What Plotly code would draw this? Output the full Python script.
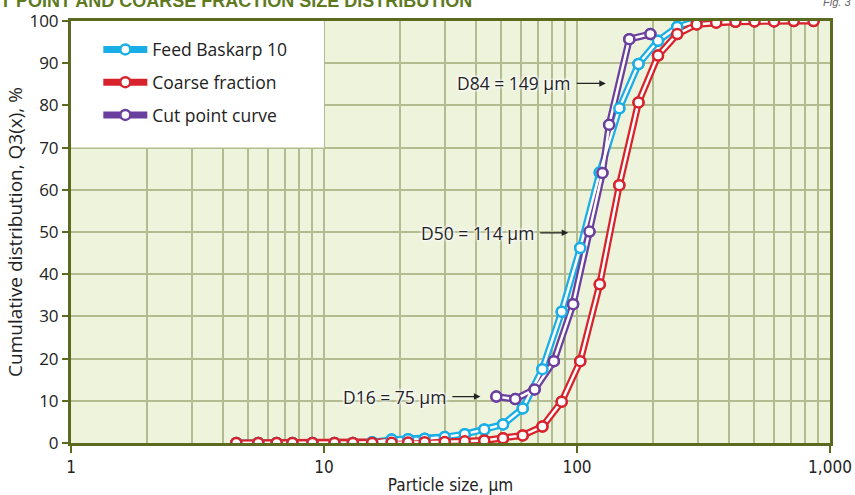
import plotly.graph_objects as go
import numpy as np

# ---- data ----
sizes = [4.5, 5.5, 6.5, 7.5, 9.0, 11.0, 13.0, 15.5, 18.5, 21.5, 25.0, 30.0, 36.0, 43.0,
         51.0, 61.0, 73.0, 87.0, 103.0, 123.0, 147.0, 175.0, 209.0, 249.0, 297.0,
         355.0, 423.0, 503.0, 601.0, 719.0, 861.0]
coarse = [0, 0, 0, 0, 0, 0, 0, 0, 0.05, 0.1, 0.2, 0.25, 0.4, 0.6,
          1.1, 1.8, 3.9, 9.8, 19.4, 37.6, 61.1, 80.7, 91.8, 96.9, 99.2,
          99.6, 99.8, 99.9, 99.9, 100, 100]
feed_sizes = sizes[:25]
feed = [0, 0, 0, 0, 0, 0, 0, 0.2, 0.8, 0.9, 1.0, 1.4, 2.1, 3.2,
        4.4, 8.2, 17.5, 31.1, 46.2, 64.1, 79.3, 89.8, 95.3, 98.6, 100]
cut_sizes = [48, 57, 68, 81, 96.5, 112, 126, 134, 161, 195]
cut = [11.0, 10.4, 12.7, 19.4, 32.9, 50.1, 64.0, 75.4, 95.7, 96.9]

series = [
    ("Feed Baskarp 10", feed_sizes, feed, "#19aee6"),
    ("Coarse fraction", sizes, coarse, "#d8232d"),
    ("Cut point curve", cut_sizes, cut, "#6a3f9e"),
]

markers = [  # (label, arrow-head size, arrow-head value, text offset px)
    ("D84 = 149 µm", 130, 85.2, -92),
    ("D50 = 114 µm", 92.3, 49.8, -91),
    ("D16 = 75 µm", 41.5, 11.0, -86),
]

x_tickvals = [1, 10, 100, 1000]
x_ticktext = ["1", "10", "100", "1,000"]
x_minor = [m * 10 ** d for d in range(0, 3) for m in range(2, 10)]

AXIS = "#5b6a1e"
GRID = "#b3bb91"
FONT = "Open Sans"
NARROW = "DejaVu Sans Condensed, Liberation Sans"

fig = go.Figure()

# colored outer lines (legend entries)
for i, (name, xs, ys, col) in enumerate(series):
    fig.add_trace(go.Scatter(
        x=xs, y=ys, name=name, mode="lines+markers", legendgroup=f"g{i}",
        line=dict(color=col, width=7),
        marker=dict(size=10, color="white", line=dict(color=col, width=2.5)),
    ))
# white inner lines
for i, (name, xs, ys, col) in enumerate(series):
    fig.add_trace(go.Scatter(
        x=xs, y=ys, mode="lines", showlegend=False, legendgroup=f"g{i}",
        hoverinfo="skip", line=dict(color="white", width=2.5),
    ))
# markers on top
for i, (name, xs, ys, col) in enumerate(series):
    fig.add_trace(go.Scatter(
        x=xs, y=ys, mode="markers", showlegend=False, legendgroup=f"g{i}",
        hoverinfo="skip",
        marker=dict(size=10, color="white", line=dict(color=col, width=2.5)),
    ))

# white box behind legend
fig.add_shape(type="rect", xref="x", yref="y", x0=1, x1=10, y0=70, y1=100,
              fillcolor="white", line=dict(width=0), layer="between")

shadow = "0 0 2px white, 0 0 3px white, 0 0 4px white, 0 0 4px white"
for label, xv, yv, ax in markers:
    fig.add_annotation(
        x=np.log10(xv), y=yv, xref="x", yref="y", text=label,
        showarrow=True, ax=ax, ay=0, axref="pixel", ayref="pixel",
        arrowhead=2, arrowsize=1, arrowwidth=1.3, arrowcolor="#222",
        borderpad=6,
        font=dict(family=FONT, size=17.5, color="#222", shadow=shadow),
    )

fig.add_annotation(
    x=-0.13, y=1.047, xref="paper", yref="paper", xanchor="left", yanchor="middle",
    text="<b>CUT POINT AND COARSE FRACTION SIZE DISTRIBUTION</b>", showarrow=False,
    font=dict(family="Liberation Sans", size=18, color="#5f7a1e"),
)
fig.add_annotation(
    x=1.03, y=1.045, xref="paper", yref="paper", xanchor="right", yanchor="middle",
    text="<i>Fig. 3</i>", showarrow=False,
    font=dict(family="Liberation Sans", size=11, color="#666"),
)

fig.update_xaxes(
    type="log", range=[0, 3], automargin=False,
    tickvals=x_tickvals, ticktext=x_ticktext,
    showgrid=True, gridcolor=GRID, gridwidth=2,
    minor=dict(tickvals=x_minor, showgrid=True, gridcolor=GRID, gridwidth=2, ticks=""),
    ticks="outside", ticklen=7, tickwidth=2, tickcolor=AXIS,
    showline=True, linecolor=AXIS, linewidth=3, mirror=True,
    tickfont=dict(family=NARROW, size=17, color="#222"),
    title=dict(text="Particle size, µm", standoff=6,
               font=dict(family=NARROW, size=17, color="#222")),
    zeroline=False,
)
fig.update_yaxes(
    range=[0, 100], dtick=10, automargin=False,
    showgrid=True, gridcolor=GRID, gridwidth=2,
    ticks="outside", ticklen=6, tickwidth=2, tickcolor=AXIS,
    showline=True, linecolor=AXIS, linewidth=3, mirror=True,
    tickfont=dict(family=FONT, size=17, color="#222"),
    title=dict(text="Cumulative distribution, Q3(x), %", standoff=2,
               font=dict(family=FONT, size=19, color="#222")),
    zeroline=False,
)

fig.update_layout(
    width=855, height=495,
    margin=dict(l=71, r=25, t=21, b=52, autoexpand=False),
    paper_bgcolor="white", plot_bgcolor="#eef3dc",
    showlegend=True,
    legend=dict(x=0.036, y=0.975, xanchor="left", yanchor="top",
                bgcolor="rgba(0,0,0,0)", borderwidth=0,
                tracegroupgap=7, itemwidth=44,
                font=dict(family=FONT, size=17.5, color="#222")),
    hovermode=False,
)

fig.write_html("out.html")
